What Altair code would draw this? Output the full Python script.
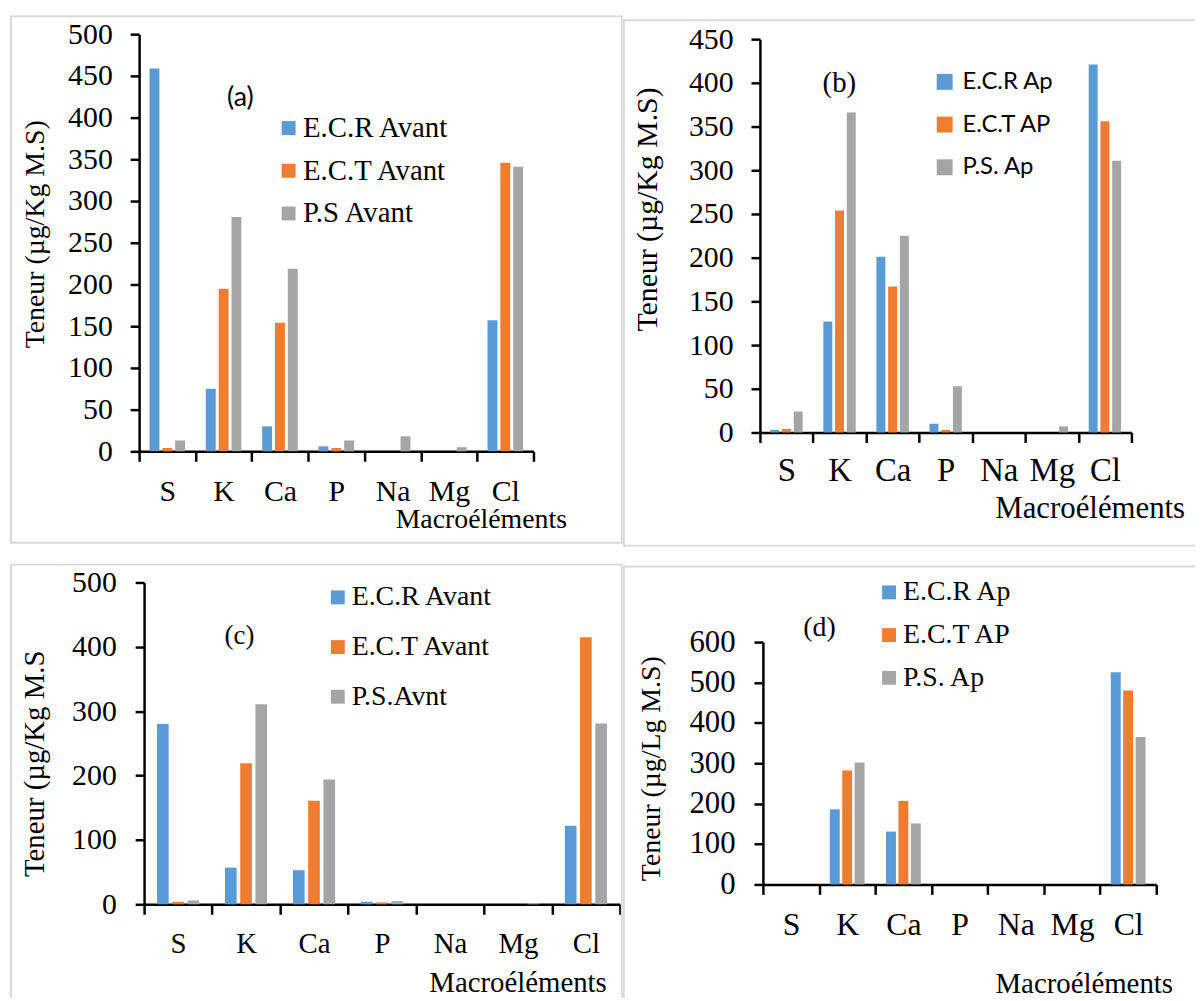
import altair as alt
import pandas as pd

elements = ["S", "K", "Ca", "P", "Na", "Mg", "Cl"]
colors = ["#5B9BD5", "#ED7D31", "#A5A5A5"]

# Panel (a)
a_series = ["E.C.R Avant", "E.C.T Avant", "P.S Avant"]
a_ecr = [459, 75, 30, 6, 0, 0, 157]
a_ect = [4, 195, 154, 4, 0, 0, 346]
a_ps = [13, 281, 219, 13, 18, 5, 341]
a_ticks = [0, 50, 100, 150, 200, 250, 300, 350, 400, 450, 500]

# Panel (b)
b_series = ["E.C.R Ap", "E.C.T AP", "P.S. Ap"]
b_ecr = [3, 127, 201, 10, 0, 0, 421]
b_ect = [4, 254, 167, 3, 0, 0, 356]
b_ps = [24, 366, 225, 53, 0, 7, 311]
b_ticks = [0, 50, 100, 150, 200, 250, 300, 350, 400, 450]

# Panel (c)
c_series = ["E.C.R Avant", "E.C.T Avant", "P.S.Avnt"]
c_ecr = [280, 57, 53, 4, 0, 0, 122]
c_ect = [4, 219, 161, 3, 0, 0, 415]
c_ps = [6, 311, 194, 5, 0, 2, 281]
c_ticks = [0, 100, 200, 300, 400, 500]

# Panel (d)
d_series = ["E.C.R Ap", "E.C.T AP", "P.S. Ap"]
d_ecr = [0, 186, 131, 0, 0, 0, 525]
d_ect = [0, 282, 207, 0, 0, 0, 480]
d_ps = [0, 302, 151, 0, 0, 0, 365]
d_ticks = [0, 100, 200, 300, 400, 500, 600]

SERIF = "Liberation Serif"
SANS = "Lato"
NBSP = "\u00a0"


def long_df(series, cols):
    rows = []
    for s, vals in zip(series, cols):
        for e, v in zip(elements, vals):
            rows.append({"element": e, "series": s, "value": v})
    return pd.DataFrame(rows)


one = pd.DataFrame({"k": [0]})


def panel(df, series, ticks, ymax, ytitle, tag, L):
    W, H = L["W"], L["H"]
    x0, x1, yb, yt = L["x0"], L["x1"], L["yb"], L["yt"]
    bars = alt.Chart(df).mark_bar().encode(
        x=alt.X(
            "element:N", sort=elements, title="Macroéléments",
            scale=alt.Scale(range=[x0, x1], paddingInner=0, paddingOuter=0),
            axis=alt.Axis(
                offset=yb - H, labelAngle=0, labelFont=SERIF,
                labelFontSize=L["xlab"], labelPadding=L["xpad"], labelColor="black",
                labelOverlap=False, tickBand="extent", tickSize=10, tickWidth=2.5,
                tickColor="black", domainColor="black", domainWidth=2.5, grid=False,
                titleFont=SERIF, titleFontSize=L["xtfs"], titleFontWeight="normal",
                titleColor="black", titleX=L["xtx"], titleY=L["xty"],
                titleBaseline="alphabetic", titleAlign="center",
            ),
        ),
        xOffset=alt.XOffset(
            "series:N", sort=series,
            scale=alt.Scale(paddingInner=L["pi"], paddingOuter=L["po"]),
        ),
        y=alt.Y(
            "value:Q", title=ytitle,
            scale=alt.Scale(domain=[0, ymax], range=[yb, yt], nice=False, zero=True),
            axis=alt.Axis(
                values=ticks, offset=-x0, labelFont=SERIF, labelFontSize=L["ylab"],
                labelPadding=L["ypad"], labelColor="black", labelOverlap=False,
                tickSize=9, tickWidth=2.5, tickColor="black", domainColor="black",
                domainWidth=2.5, grid=False, titleFont=SERIF,
                titleFontSize=L["ytfs"], titleFontWeight="normal", titleColor="black",
                titleX=L["ytx"], titleY=L["yty"], titleBaseline="alphabetic",
                titleAlign="center", titleAngle=270,
            ),
        ),
        color=alt.Color(
            "series:N", sort=series,
            scale=alt.Scale(domain=series, range=colors),
            legend=alt.Legend(
                title=None, orient="none", legendX=L["lx"], legendY=L["ly"],
                symbolType="square", symbolSize=L["ss"], symbolStrokeWidth=0,
                symbolOpacity=1, labelFont=L["lfont"], labelFontSize=L["lfs"],
                labelColor="black", rowPadding=L["rp"], labelOffset=L["lo"],
                labelLimit=400, padding=0,
                labelExpr="indexof(datum.label, 'E.C.T') == 0 ? '" + NBSP + "' + datum.label : datum.label",
            ),
        ),
    )
    frame = alt.Chart(one).mark_rect(
        fillOpacity=0, stroke="#d9d9d9", strokeWidth=2, clip=True
    ).encode(
        x=alt.value(L["fx0"]), x2=alt.value(L["fx1"]),
        y=alt.value(L["fy0"]), y2=alt.value(L["fy1"]),
    )
    label = alt.Chart(one).mark_text(
        text=tag, font=L["tfont"], fontSize=L["tfs"], align="center",
        baseline="middle", color="black",
    ).encode(x=alt.value(L["tx"]), y=alt.value(L["ty"]))
    return alt.layer(frame, bars, label).properties(width=W, height=H)


La = dict(W=617, H=535, x0=130, x1=527, yb=439, yt=19, pi=0.23, po=0.81,
          xlab=30, xpad=15, xtfs=28, xtx=474, xty=77,
          ylab=30, ypad=18, ytfs=28, ytx=-96, yty=220,
          lx=266, ly=99, ss=196, lfont=SERIF, lfs=29, rp=13, lo=0,
          fx0=1, fx1=616, fy0=1, fy1=531,
          tfont=SANS, tfs=27, tx=232, ty=83)
Lb = dict(W=576, H=535, x0=138, x1=512, yb=420, yt=24, pi=0.237, po=0.88,
          xlab=33, xpad=12, xtfs=31, xtx=470, xty=86,
          ylab=30, ypad=18, ytfs=30, ytx=-104, yty=195,
          lx=312, ly=55, ss=256, lfont=SANS, lfs=24, rp=19, lo=6,
          fx0=1, fx1=600, fy0=5, fy1=534,
          tfont=SERIF, tfs=29, tx=218, ty=68)
Lc = dict(W=617, H=437, x0=135, x1=614, yb=343, yt=19, pi=0.235, po=0.85,
          xlab=29, xpad=16, xtfs=29, xtx=511, xty=88,
          ylab=30, ypad=19, ytfs=29, ytx=-101, yty=201,
          lx=316, ly=20, ss=196, lfont=SERIF, lfs=28, rp=22, lo=0,
          fx0=1, fx1=616, fy0=1, fy1=460,
          tfont=SERIF, tfs=27, tx=231, ty=73)
Ld = dict(W=576, H=437, x0=141, x1=537, yb=323, yt=79, pi=0.2, po=0.865,
          xlab=32, xpad=15, xtfs=29, xtx=464, xty=109,
          ylab=31, ypad=19, ytfs=28, ytx=-104, yty=206,
          lx=254, ly=15, ss=196, lfont=SERIF, lfs=28, rp=15, lo=0,
          fx0=1, fx1=600, fy0=3, fy1=460,
          tfont=SERIF, tfs=28, tx=198, ty=65)

pa = panel(long_df(a_series, [a_ecr, a_ect, a_ps]), a_series, a_ticks, 500,
           "Teneur (µg/Kg M.S)", "(a)", La)
pb = panel(long_df(b_series, [b_ecr, b_ect, b_ps]), b_series, b_ticks, 450,
           "Teneur (µg/Kg M.S)", "(b)", Lb)
pc = panel(long_df(c_series, [c_ecr, c_ect, c_ps]), c_series, c_ticks, 500,
           "Teneur (µg/Kg M.S", "(c)", Lc)
pd_ = panel(long_df(d_series, [d_ecr, d_ect, d_ps]), d_series, d_ticks, 600,
            "Teneur (µg/Lg M.S)", "(d)", Ld)


def indep(ch):
    return ch.resolve_scale(color="independent", x="independent", y="independent",
                            xOffset="independent").resolve_legend(color="independent")


row1 = indep(alt.hconcat(pa, pb, spacing=0))
row2 = indep(alt.hconcat(pc, pd_, spacing=0))
chart = indep(alt.vconcat(row1, row2, spacing=17)).properties(
    padding={"left": 2, "top": 4, "right": 0, "bottom": 0},
    background="white",
).configure_view(strokeWidth=0)

chart.save("out.html", embed_options={"renderer": "svg", "actions": False})
